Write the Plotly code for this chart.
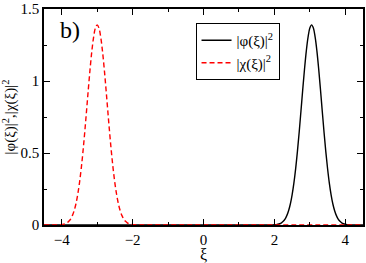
import plotly.graph_objects as go

# |phi(xi)|^2  (solid black)
xi_phi = [-4.5, 1.90, 1.95, 2.00, 2.05, 2.10, 2.15, 2.20, 2.25, 2.30, 2.35, 2.40, 2.45, 2.50,
          2.55, 2.60, 2.65, 2.70, 2.75, 2.80, 2.85, 2.90, 2.95, 3.00, 3.05, 3.10, 3.15,
          3.20, 3.25, 3.30, 3.35, 3.40, 3.45, 3.50, 3.55, 3.60, 3.65, 3.70, 3.75, 3.80,
          3.85, 3.90, 3.95, 4.00, 4.05, 4.10, 4.15, 4.20, 4.25, 4.30, 4.5]
phi_sq = [0.0, 0.0002, 0.0007, 0.0016, 0.0027, 0.0049, 0.0088, 0.0152, 0.0255, 0.041, 0.065,
          0.099, 0.146, 0.210, 0.291, 0.392, 0.511, 0.646, 0.792, 0.941, 1.083, 1.208,
          1.305, 1.368, 1.39, 1.368, 1.305, 1.208, 1.083, 0.941, 0.792, 0.646, 0.511,
          0.392, 0.291, 0.210, 0.146, 0.099, 0.065, 0.041, 0.0255, 0.0152, 0.0088,
          0.0049, 0.0027, 0.0016, 0.0007, 0.0002, 0.0, 0.0, 0.0]

# |chi(xi)|^2  (dashed red)
xi_chi = [-4.5, -4.15, -4.10, -4.05, -4.00, -3.95, -3.90, -3.85, -3.80, -3.75, -3.70, -3.65,
          -3.60, -3.55, -3.50, -3.45, -3.40, -3.35, -3.30, -3.25, -3.20, -3.15, -3.10,
          -3.05, -3.00, -2.95, -2.90, -2.85, -2.80, -2.75, -2.70, -2.65, -2.60, -2.55,
          -2.50, -2.45, -2.40, -2.35, -2.30, -2.25, -2.20, -2.15, -2.10, -2.05, -2.00,
          -1.95, -1.90, -1.85, -1.80, -1.75, 4.5]
chi_sq = [0.0, 0.0002, 0.0007, 0.0016, 0.0027, 0.0049, 0.0088, 0.0152, 0.0255, 0.041, 0.065,
          0.099, 0.146, 0.210, 0.291, 0.392, 0.511, 0.646, 0.792, 0.941, 1.083, 1.208,
          1.305, 1.368, 1.39, 1.368, 1.305, 1.208, 1.083, 0.941, 0.792, 0.646, 0.511,
          0.392, 0.291, 0.210, 0.146, 0.099, 0.065, 0.041, 0.0255, 0.0152, 0.0088,
          0.0049, 0.0027, 0.0016, 0.0007, 0.0002, 0.0, 0.0, 0.0]

x_ticks = [-4, -2, 0, 2, 4]
y_ticks = [0, 0.5, 1, 1.5]
y_tick_text = ["0", "0.5", "1", "1.5"]

FONT = "Liberation Serif, DejaVu Serif, serif"

fig = go.Figure()
fig.add_trace(go.Scatter(x=xi_phi, y=phi_sq, mode="lines", name="|φ(ξ)|<sup>2</sup>",
                         line=dict(color="black", width=1.4), line_shape="spline"))
fig.add_trace(go.Scatter(x=xi_chi, y=chi_sq, mode="lines", name="|χ(ξ)|<sup>2</sup>",
                         line=dict(color="#ff0000", width=1.4, dash="5px,3px"), line_shape="spline"))

axis_common = dict(showline=True, linecolor="black", linewidth=1.5, mirror="ticks",
                   ticks="inside", ticklen=6, tickwidth=1, tickcolor="black",
                   showgrid=False, zeroline=False, ticklabeloverflow="allow",
                   tickfont=dict(family=FONT, size=15, color="black"))

fig.update_xaxes(range=[-4.5, 4.5], tickvals=x_ticks,
                 minor=dict(dtick=1, tick0=0, ticks="inside", ticklen=3, tickcolor="black"),
                 title=dict(text="ξ", font=dict(family=FONT, size=16, color="black"), standoff=3),
                 **axis_common)
fig.update_yaxes(range=[0, 1.5], tickvals=y_ticks, ticktext=y_tick_text,
                 minor=dict(dtick=0.25, tick0=0, ticks="inside", ticklen=3, tickcolor="black"),
                 title=dict(text="|φ(ξ)|<sup>2</sup>,|χ(ξ)|<sup>2</sup>",
                            font=dict(family=FONT, size=15, color="black"), standoff=2),
                 **axis_common)

fig.add_annotation(text="b)", x=0.045, y=0.97, xref="paper", yref="paper",
                   xanchor="left", yanchor="top", showarrow=False,
                   font=dict(family=FONT, size=24, color="black"))

fig.update_layout(width=366, height=263,
                  margin=dict(l=44, r=1, t=5, b=34),
                  paper_bgcolor="white", plot_bgcolor="white",
                  showlegend=True,
                  legend=dict(x=0.475, y=0.935, xanchor="left", yanchor="top",
                              bordercolor="black", borderwidth=1, bgcolor="white",
                              font=dict(family=FONT, size=15, color="black"),
                              itemwidth=30, tracegroupgap=0))

fig.write_html("out.html", config={"displayModeBar": False},
               post_script="document.body.style.margin='0';")
